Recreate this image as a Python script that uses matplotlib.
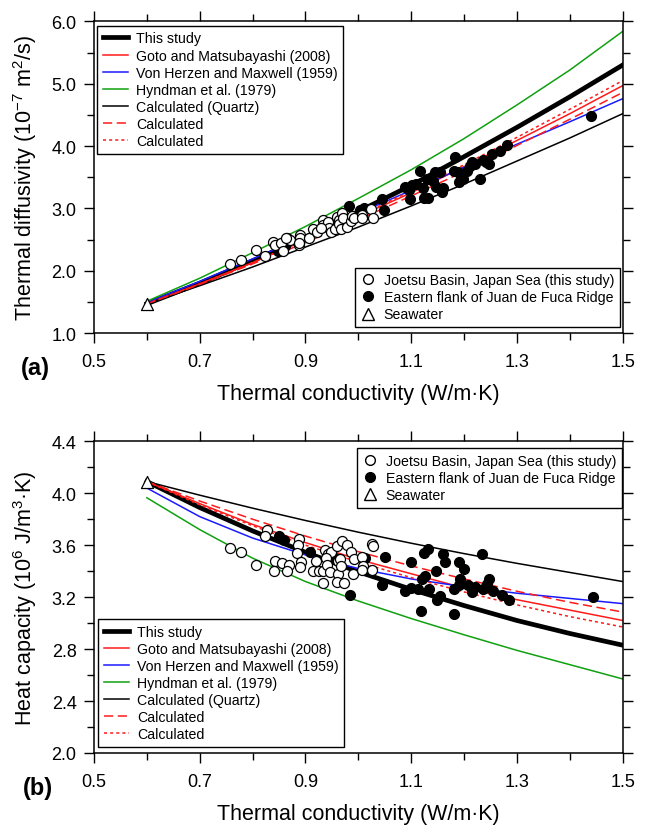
import matplotlib
matplotlib.use('Agg')  # non-interactive backend
import matplotlib.pyplot as plt
from matplotlib.lines import Line2D
from matplotlib.ticker import MultipleLocator

plt.rcParams['font.family'] = ['Liberation Sans', 'DejaVu Sans']
plt.rcParams['mathtext.fontset'] = 'custom'
plt.rcParams['mathtext.rm'] = 'Liberation Sans'
plt.rcParams['mathtext.it'] = 'Liberation Sans:italic'
plt.rcParams['mathtext.bf'] = 'Liberation Sans:bold'

# model curves at k = 0.6 ... 1.5
k_curve = [0.6, 0.7, 0.8, 0.9, 1.0, 1.1, 1.2, 1.3, 1.4, 1.5]

# heat capacity (10^6 J/m3K)
cap_this = [4.09, 3.89, 3.71, 3.545, 3.395, 3.26, 3.135, 3.02, 2.92, 2.83]
cap_goto = [4.09, 3.92, 3.76, 3.62, 3.49, 3.38, 3.27, 3.18, 3.10, 3.02]
cap_vonherzen = [4.04, 3.82, 3.655, 3.525, 3.42, 3.34, 3.28, 3.23, 3.19, 3.15]
cap_hyndman = [3.965, 3.72, 3.50, 3.32, 3.17, 3.035, 2.91, 2.79, 2.68, 2.57]
cap_quartz = [4.09, 3.985, 3.885, 3.79, 3.70, 3.615, 3.535, 3.46, 3.39, 3.32]
cap_calc1 = [4.09, 3.94, 3.80, 3.67, 3.55, 3.44, 3.34, 3.245, 3.16, 3.085]
cap_calc2 = [4.09, 3.91, 3.75, 3.60, 3.47, 3.35, 3.24, 3.14, 3.05, 2.97]

# thermal diffusivity (10^-7 m2/s)
dif_this = [1.47, 1.80, 2.16, 2.54, 2.95, 3.37, 3.83, 4.30, 4.79, 5.30]
dif_goto = [1.47, 1.79, 2.13, 2.49, 2.87, 3.25, 3.67, 4.09, 4.52, 4.97]
dif_vonherzen = [1.49, 1.83, 2.19, 2.55, 2.92, 3.29, 3.66, 4.03, 4.39, 4.76]
dif_hyndman = [1.51, 1.88, 2.29, 2.71, 3.16, 3.62, 4.12, 4.66, 5.22, 5.84]
dif_quartz = [1.47, 1.76, 2.06, 2.38, 2.70, 3.04, 3.39, 3.76, 4.13, 4.52]
dif_calc1 = [1.47, 1.78, 2.11, 2.45, 2.82, 3.20, 3.59, 4.01, 4.43, 4.86]
dif_calc2 = [1.47, 1.79, 2.13, 2.50, 2.88, 3.28, 3.70, 4.14, 4.59, 5.05]

# seawater
sw_k = 0.6
sw_dif = 1.47
sw_cap = 4.09

# Joetsu Basin (open circles), panel a
joetsu_k_a = [0.757, 0.779, 0.807, 0.824, 0.839, 0.842, 0.854, 0.858, 0.865, 0.870,
              0.887, 0.889, 0.890, 0.906, 0.914, 0.922, 0.933, 0.934, 0.943, 0.945,
              0.948, 0.956, 0.960, 0.963, 0.964, 0.968, 0.970, 0.971, 0.978, 0.986,
              0.988, 0.991, 1.007, 1.007, 1.024, 1.027, 0.930, 0.887, 0.863]
joetsu_dif = [2.11, 2.18, 2.33, 2.23, 2.46, 2.41, 2.45, 2.32, 2.53, 2.49,
              2.41, 2.57, 2.53, 2.53, 2.67, 2.62, 2.81, 2.73, 2.78, 2.69,
              2.62, 2.67, 2.87, 2.81, 2.75, 2.67, 2.92, 2.84, 2.70, 2.79,
              2.88, 2.84, 2.90, 2.84, 2.99, 2.85, 2.68, 2.44, 2.52]

# Juan de Fuca Ridge (filled circles), panel a
jdf_k_a = [0.848, 0.983, 1.003, 1.011, 1.044, 1.049, 1.088, 1.097, 1.101, 1.109,
           1.117, 1.122, 1.125, 1.130, 1.132, 1.145, 1.147, 1.158, 1.160, 1.182,
           1.180, 1.190, 1.194, 1.198, 1.188, 1.205, 1.212, 1.215, 1.221, 1.231,
           1.235, 1.241, 1.248, 1.253, 1.268, 1.281, 1.440, 1.142, 1.155, 1.095,
           0.861]
jdf_dif = [2.31, 3.04, 2.97, 3.01, 3.15, 2.98, 3.34, 3.15, 3.37, 3.39,
           3.60, 3.32, 3.16, 3.47, 3.16, 3.58, 3.34, 3.27, 3.32, 3.83,
           3.60, 3.42, 3.52, 3.47, 3.58, 3.60, 3.68, 3.74, 3.71, 3.47,
           3.77, 3.74, 3.72, 3.87, 3.92, 4.01, 4.49, 3.44, 3.58, 3.29,
           2.39]

# Joetsu Basin, panel b
joetsu_k_b = [0.758, 0.778, 0.807, 0.828, 0.823, 0.843, 0.841, 0.856, 0.868, 0.866,
              0.888, 0.885, 0.884, 0.892, 0.889, 0.914, 0.919, 0.926, 0.934, 0.934,
              0.937, 0.942, 0.949, 0.938, 0.941, 0.946, 0.959, 0.969, 0.979, 0.986,
              0.961, 0.965, 0.962, 0.959, 0.973, 0.967, 0.989, 0.992, 1.006, 1.009,
              1.006, 1.026, 1.027, 1.025]
joetsu_cap = [3.58, 3.55, 3.45, 3.72, 3.67, 3.48, 3.40, 3.46, 3.45, 3.40,
              3.65, 3.60, 3.54, 3.47, 3.43, 3.40, 3.48, 3.40, 3.40, 3.31,
              3.56, 3.53, 3.55, 3.50, 3.45, 3.39, 3.59, 3.63, 3.60, 3.55,
              3.48, 3.49, 3.38, 3.32, 3.31, 3.44, 3.38, 3.49, 3.51, 3.44,
              3.41, 3.61, 3.59, 3.41]

# Juan de Fuca Ridge, panel b
jdf_k_b = [0.849, 0.859, 0.908, 0.955, 0.984, 1.013, 1.045, 1.050, 1.099, 1.088,
           1.100, 1.112, 1.119, 1.125, 1.132, 1.120, 1.127, 1.134, 1.147, 1.148,
           1.155, 1.160, 1.163, 1.181, 1.181, 1.191, 1.199, 1.193, 1.191, 1.208,
           1.215, 1.221, 1.235, 1.233, 1.243, 1.248, 1.254, 1.271, 1.284, 1.443]
jdf_cap = [3.67, 3.64, 3.55, 3.50, 3.22, 3.50, 3.29, 3.51, 3.47, 3.25,
           3.27, 3.26, 3.09, 3.54, 3.57, 3.34, 3.36, 3.26, 3.40, 3.18,
           3.21, 3.53, 3.47, 3.07, 3.26, 3.47, 3.42, 3.34, 3.29, 3.29,
           3.24, 3.28, 3.26, 3.53, 3.30, 3.34, 3.25, 3.22, 3.18, 3.20]

x_ticks = [0.5, 0.7, 0.9, 1.1, 1.3, 1.5]

line_labels = ['This study', 'Goto and Matsubayashi (2008)', 'Von Herzen and Maxwell (1959)',
               'Hyndman et al. (1979)', 'Calculated (Quartz)', 'Calculated', 'Calculated']
line_styles = [('black', '-', 3.4), ('#ff1a1a', '-', 1.1), ('#1a1aff', '-', 1.1),
               ('#10a010', '-', 1.1), ('black', '-', 1.1), ('#ff1a1a', (0, (6, 3)), 1.1),
               ('#ff1a1a', (0, (2, 2)), 1.1)]
point_labels = ['Joetsu Basin, Japan Sea (this study)', 'Eastern flank of Juan de Fuca Ridge',
                'Seawater']

LEG_FS = 10.2


def draw_panel(ax, curves, open_k, open_v, fill_k, fill_v, sw_v):
    for y, (color, ls, lw) in zip(curves, line_styles):
        ax.plot(k_curve, y, color=color, linestyle=ls, linewidth=lw, zorder=2)
    ax.scatter(fill_k, fill_v, s=52, facecolor='black', edgecolor='black', linewidth=0.8, zorder=3)
    ax.scatter(open_k, open_v, s=52, facecolor='white', edgecolor='black', linewidth=0.9, zorder=4)
    ax.scatter([sw_k], [sw_v], s=75, marker='^', facecolor='white', edgecolor='black',
               linewidth=0.9, zorder=5)

    ax.set_xlim(0.5, 1.5)
    ax.set_xticks(x_ticks)
    ax.xaxis.set_minor_locator(MultipleLocator(0.1))
    ax.xaxis.set_major_formatter('{x:.1f}')
    ax.tick_params(which='both', direction='out', top=True, right=True, width=1.0,
                   labelsize=13, colors='black')
    ax.tick_params(which='major', length=7.5)
    ax.tick_params(which='minor', length=5)
    ax.tick_params(axis='x', pad=7)
    ax.tick_params(axis='y', pad=5)
    for sp in ax.spines.values():
        sp.set_linewidth(1.1)
    ax.set_xlabel('Thermal conductivity (W/m·K)', fontsize=15.5, labelpad=9)


def line_handles():
    return [Line2D([], [], color=c, linestyle=ls, linewidth=lw) for c, ls, lw in line_styles]


def point_handles():
    return [Line2D([], [], linestyle='none', marker='o', markersize=7, markerfacecolor='white',
                   markeredgecolor='black'),
            Line2D([], [], linestyle='none', marker='o', markersize=7, markerfacecolor='black',
                   markeredgecolor='black'),
            Line2D([], [], linestyle='none', marker='^', markersize=8, markerfacecolor='white',
                   markeredgecolor='black')]


def add_legend(ax, handles, labels, loc, anchor, handlelength):
    leg = ax.legend(handles, labels, loc=loc, bbox_to_anchor=anchor, borderaxespad=0,
                    fontsize=LEG_FS, fancybox=False, framealpha=1, edgecolor='black',
                    labelspacing=0.22, borderpad=0.4, handlelength=handlelength,
                    handletextpad=0.6)
    leg.get_frame().set_linewidth(1.0)
    return leg


fig = plt.figure(figsize=(6.48, 8.29), dpi=100)
ax_a = fig.add_axes([0.145, 0.597, 0.816, 0.376])
ax_b = fig.add_axes([0.145, 0.0905, 0.816, 0.376])

# (a) thermal diffusivity
draw_panel(ax_a, [dif_this, dif_goto, dif_vonherzen, dif_hyndman, dif_quartz, dif_calc1, dif_calc2],
           joetsu_k_a, joetsu_dif, jdf_k_a, jdf_dif, sw_dif)
ax_a.set_ylim(1.0, 6.0)
ax_a.yaxis.set_major_locator(MultipleLocator(1.0))
ax_a.yaxis.set_minor_locator(MultipleLocator(0.5))
ax_a.yaxis.set_major_formatter('{x:.1f}')
ax_a.set_ylabel('Thermal diffusivity (10$^{-7}$ m$^2$/s)', fontsize=15.5, labelpad=9)
leg1 = add_legend(ax_a, line_handles(), line_labels, 'upper left', (0.006, 0.986), 1.75)
ax_a.add_artist(leg1)
add_legend(ax_a, point_handles(), point_labels, 'lower right', (0.994, 0.019), 1.0)

# (b) heat capacity
draw_panel(ax_b, [cap_this, cap_goto, cap_vonherzen, cap_hyndman, cap_quartz, cap_calc1, cap_calc2],
           joetsu_k_b, joetsu_cap, jdf_k_b, jdf_cap, sw_cap)
ax_b.set_ylim(2.0, 4.4)
ax_b.yaxis.set_major_locator(MultipleLocator(0.4))
ax_b.yaxis.set_minor_locator(MultipleLocator(0.2))
ax_b.yaxis.set_major_formatter('{x:.1f}')
ax_b.set_ylabel('Heat capacity (10$^6$ J/m$^3$·K)', fontsize=15.5, labelpad=9)
leg2 = add_legend(ax_b, point_handles(), point_labels, 'upper right', (0.998, 0.978), 1.0)
ax_b.add_artist(leg2)
add_legend(ax_b, line_handles(), line_labels, 'lower left', (0.008, 0.019), 1.75)

fig.text(0.055, 0.556, '(a)', fontsize=17, fontweight='bold', ha='center', va='center')
fig.text(0.058, 0.049, '(b)', fontsize=17, fontweight='bold', ha='center', va='center')

fig.savefig('out.png', dpi=100)
